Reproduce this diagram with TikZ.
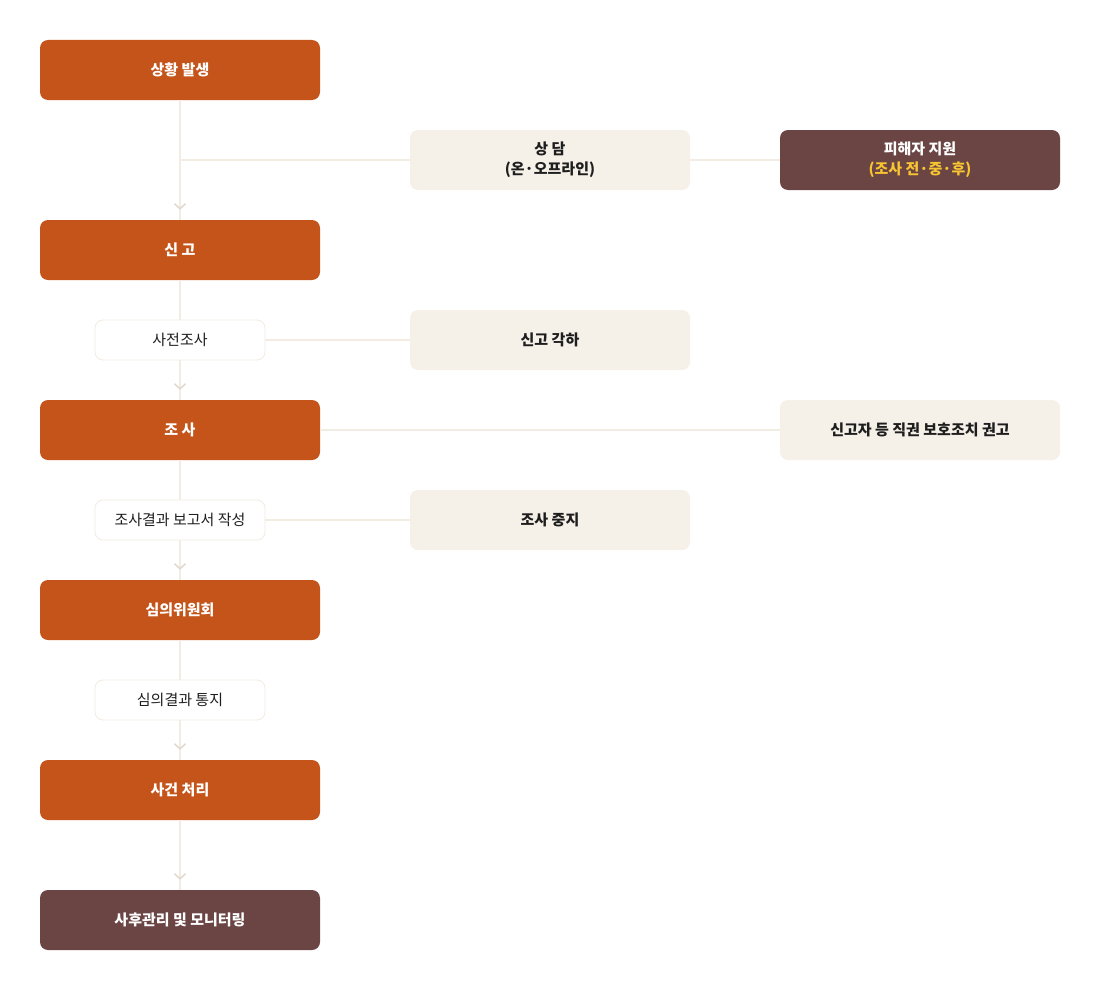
\documentclass[tikz,border=0pt]{standalone}
\usepackage{fontspec}
\setmainfont{Noto Sans CJK KR}
\usetikzlibrary{arrows.meta,decorations.markings}

\definecolor{rust}{HTML}{C4541A}
\definecolor{cocoa}{HTML}{6B4444}
\definecolor{cream}{HTML}{F5F0E8}
\definecolor{rule}{HTML}{F2ECE2}
\definecolor{chev}{HTML}{E0D8CC}
\definecolor{gold}{HTML}{F7C531}
\definecolor{ink}{HTML}{1E1E1E}

\begin{document}
\begin{tikzpicture}[x=1pt,y=-1pt,
                main node/.style={rectangle,rounded corners=8pt,minimum width=280pt,minimum height=60pt,
                  fill=rust,text=white,font=\fontsize{15}{20}\selectfont\bfseries,align=center},
                last node/.style={main node,fill=cocoa},
                side node/.style={main node,fill=cream,text=ink},
                step node/.style={rectangle,rounded corners=8pt,minimum width=170pt,minimum height=40pt,
                  fill=white,draw=rule,line width=0.8pt,text=ink,font=\fontsize{15}{20}\selectfont},
                line/.style={draw=rule,line width=2pt},
                flow/.style={line,postaction={decorate},
                  decoration={markings,mark=at position -10pt with {\arrow[chev,line width=1.5pt]{Straight Barb[length=5pt,width=11pt]}}}}]
	\useasboundingbox (0,0) rectangle (1100,990);

	\node[main node] (1) at (180,70) {상황 발생};
	\node[main node] (2) at (180,250) {신 고};
	\node[main node] (3) at (180,430) {조 사};
	\node[main node] (4) at (180,610) {심의위원회};
	\node[main node] (5) at (180,790) {사건 처리};
	\node[last node] (6) at (180,920) {사후관리 및 모니터링};

	\node[step node] (pre) at (180,340) {사전조사};
	\node[step node] (rep) at (180,520) {조사결과 보고서 작성};
	\node[step node] (res) at (180,700) {심의결과 통지};

	\node[side node] (con) at (550,160) {상 담\\(온·오프라인)};
	\node[side node] (dis) at (550,340) {신고 각하};
	\node[side node] (stop) at (550,520) {조사 중지};
	\node[last node] (vic) at (920,160) {피해자 지원\\\textcolor{gold}{(조사 전·중·후)}};
	\node[side node] (rec) at (920,430) {신고자 등 직권 보호조치 권고};

	% main flow
	\path[flow] (1) -- (2);
	\path[line] (2) -- (pre);
	\path[flow] (pre) -- (3);
	\path[line] (3) -- (rep);
	\path[flow] (rep) -- (4);
	\path[line] (4) -- (res);
	\path[flow] (res) -- (5);
	\path[flow] (5) -- (6);

	% branches
	\path[line] (con.west -| 1) -- (con.west);
	\path[line] (con) -- (vic);
	\path[line] (pre) -- (dis);
	\path[line] (3) -- (rec);
	\path[line] (rep) -- (stop);

\end{tikzpicture}
\end{document}
